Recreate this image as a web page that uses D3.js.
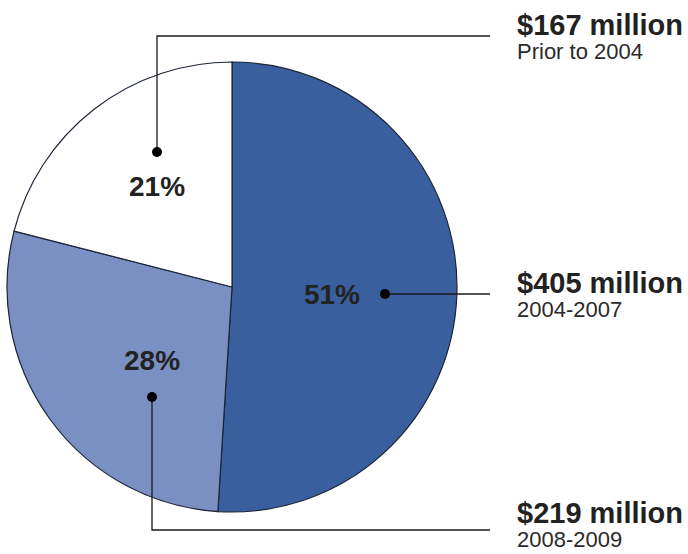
<!DOCTYPE html>
<html>
<head>
<meta charset="utf-8">
<script src="https://cdn.jsdelivr.net/npm/d3@7"></script>
<style>
  body { margin: 0; background: #fff; }
  text { font-family: "Liberation Sans", Arial, sans-serif; }
</style>
</head>
<body>
<svg id="chart" width="688" height="554"></svg>
<script>
// data
var periods = ["2004-2007", "2008-2009", "Prior to 2004"];
var amounts = ["$405 million", "$219 million", "$167 million"];
var shares = [51, 28, 21];

var colors = ["#3a5f9e", "#7a8fc2", "#ffffff"];

// where the percent label / leader dot sit, relative to the pie centre
var labelAt = [[100, 7], [-80, 73], [-75, -101]];
var dotAt = [[153, 7], [-80, 110], [-75, -135]];
// y of the right hand caption line for each slice
var captionY = [293, 523, 35];

var svg = d3.select("#chart"),
    cx = 232, cy = 287, r = 225,
    lineEnd = 490, textX = 517;

var pie = d3.pie().sort(null).value(function (d) { return d; });
var arc = d3.arc().innerRadius(0).outerRadius(r);
var arcs = pie(shares);

var g = svg.append("g").attr("transform", "translate(" + cx + "," + cy + ")");

g.selectAll("path.slice")
    .data(arcs)
    .enter().append("path")
    .attr("class", "slice")
    .attr("d", arc)
    .attr("fill", function (d, i) { return colors[i]; })
    .attr("stroke", "#1c2536")
    .attr("stroke-width", 1.2);

// leader lines
arcs.forEach(function (d, i) {
    var x0 = cx + dotAt[i][0], y0 = cy + dotAt[i][1];
    var yLine = captionY[i] + (i == 1 ? 7 : 1);
    var pts;
    if (i == 0) pts = [[x0, y0], [lineEnd, y0]];
    else pts = [[x0, y0], [x0, yLine], [lineEnd, yLine]];
    svg.append("path")
        .attr("d", d3.line()(pts))
        .attr("fill", "none")
        .attr("stroke", "#1a1a1a")
        .attr("stroke-width", 1.3);
    svg.append("circle")
        .attr("cx", x0).attr("cy", y0).attr("r", 5)
        .attr("fill", "#000");
});

g.selectAll("text.pct")
    .data(arcs)
    .enter().append("text")
    .attr("class", "pct")
    .attr("x", function (d, i) { return labelAt[i][0]; })
    .attr("y", function (d, i) { return labelAt[i][1] + 10; })
    .attr("text-anchor", "middle")
    .attr("font-size", "28px")
    .attr("font-weight", "bold")
    .attr("fill", "#222")
    .text(function (d) { return d.data + "%"; });

// captions on the right
shares.forEach(function (s, i) {
    svg.append("text")
        .attr("x", textX).attr("y", captionY[i])
        .attr("font-size", "29px")
        .attr("font-weight", "bold")
        .attr("fill", "#222")
        .text(amounts[i]);
    svg.append("text")
        .attr("x", textX).attr("y", captionY[i] + 24)
        .attr("font-size", "22px")
        .attr("fill", "#2a2a2a")
        .text(periods[i]);
});
</script>
</body>
</html>
